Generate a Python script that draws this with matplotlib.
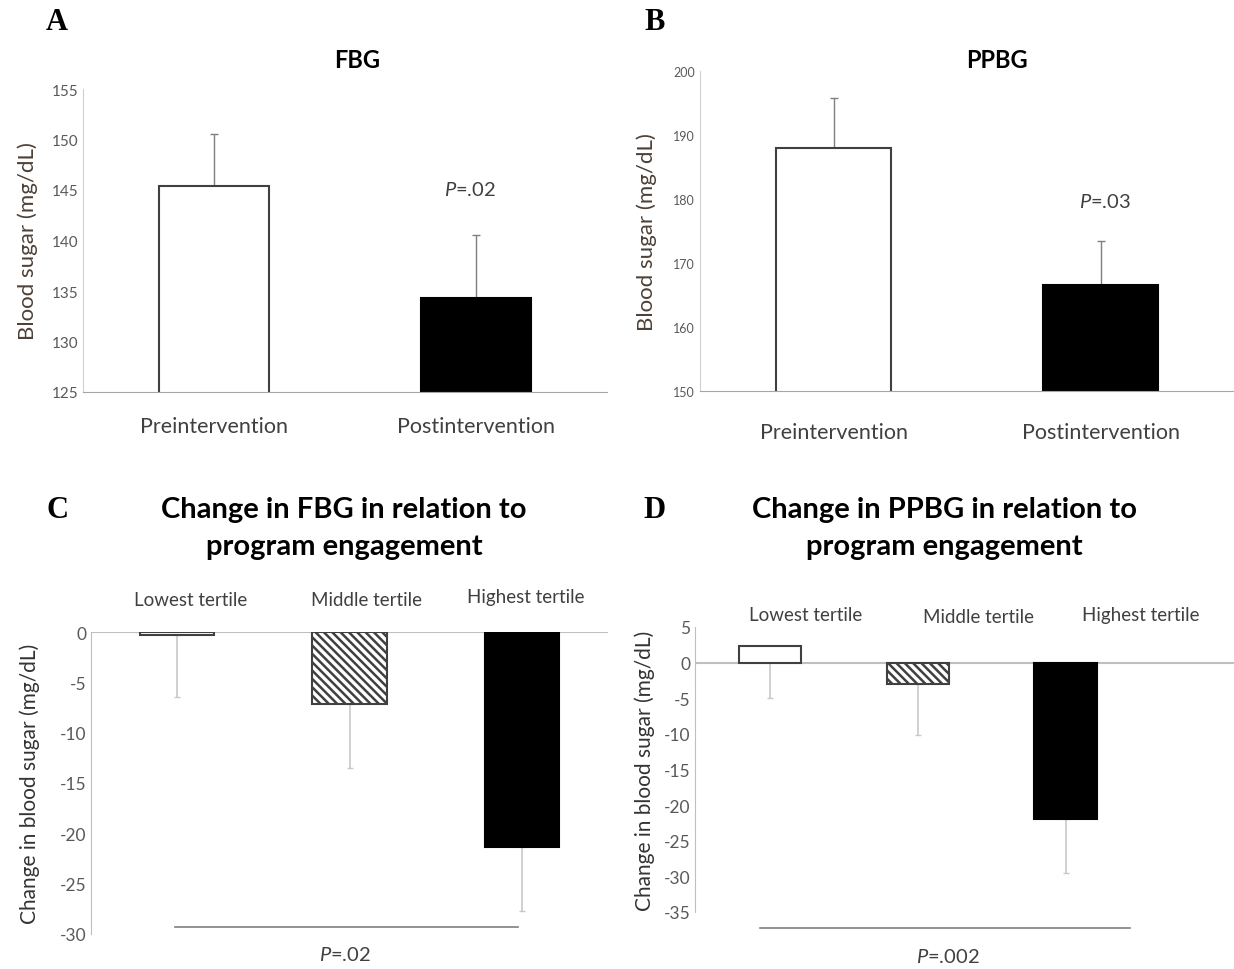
import numpy as np
import matplotlib
matplotlib.use('Agg')
import matplotlib.pyplot as plt
import matplotlib.transforms as mtransforms

plt.rcParams['font.family'] = ['Lato', 'DejaVu Sans']
plt.rcParams['mathtext.fontset'] = 'custom'
plt.rcParams['mathtext.it'] = 'Lato:italic'
plt.rcParams['mathtext.rm'] = 'Lato'
plt.rcParams['hatch.linewidth'] = 1.8
plt.rcParams['hatch.color'] = 'black'
plt.rcParams['axes.unicode_minus'] = False

# data
time_labels = ['Preintervention', 'Postintervention']
fbg_mean = [145.4, 134.3]
fbg_err = [5.1, 6.2]
ppbg_mean = [188.0, 166.6]
ppbg_err = [7.8, 6.8]

tertiles = ['Lowest tertile', 'Middle tertile', 'Highest tertile']
fbg_change = [-0.3, -7.2, -21.4]
fbg_change_err = [6.2, 6.3, 6.3]
ppbg_change = [2.3, -3.0, -22.0]
ppbg_change_err = [7.3, 7.2, 7.5]

W, H = 1234, 970
fig = plt.figure(figsize=(W / 100, H / 100), dpi=100)


def px_axes(x0, y0, x1, y1):
    return fig.add_axes([x0 / W, 1 - y1 / H, (x1 - x0) / W, (y1 - y0) / H])


def style(ax):
    for s in ['top', 'right']:
        ax.spines[s].set_visible(False)
    ax.tick_params(length=0, colors='#595959')


def pptext(x, y, s, size=14.5):
    fig.text(x / W, 1 - y / H, s, ha='center', va='center', fontsize=size, color='#404040')


fills = ['white', 'black']
hatches3 = ['', '\\\\\\\\', '']
fills3 = ['white', 'white', 'black']

# ---- A: FBG
ax = px_axes(83, 90, 607, 393)
style(ax)
x = np.arange(len(time_labels))
ax.bar(x, fbg_mean, width=0.42, color=fills, edgecolor=['#404040', 'black'], linewidth=1.5,
       zorder=2)
ax.errorbar(x, fbg_mean, yerr=[[0, 0], fbg_err], fmt='none', ecolor='#7f7f7f', elinewidth=1,
            capsize=3, zorder=1)
ax.set_ylim(125, 155)
ax.set_xlim(-0.5, 1.5)
ax.set_yticks(np.arange(125, 156, 5))
ax.set_xticks(x)
ax.set_xticklabels(time_labels, fontsize=15.5, color='#404040')
ax.tick_params(axis='x', pad=17)
ax.tick_params(axis='y', labelsize=11)
ax.spines['left'].set_color('#d0d0d0')
ax.spines['bottom'].set_color('#a6a6a6')
ax.set_ylabel('Blood sugar (mg/dL)', fontsize=16, color='#4d4036', labelpad=10)
fig.text(357 / W, 1 - 60 / H, 'FBG', ha='center', va='center', fontsize=17, fontweight='bold')
pptext(470, 190, '$P$=.02')
fig.text(57 / W, 1 - 22 / H, 'A', ha='center', va='center', fontsize=22, fontweight='bold',
         family='Liberation Serif')

# ---- B: PPBG
ax = px_axes(700, 72, 1234, 392)
style(ax)
ax.bar(x, ppbg_mean, width=0.43, color=fills, edgecolor=['#404040', 'black'], linewidth=1.5,
       zorder=2)
ax.errorbar(x, ppbg_mean, yerr=[[0, 0], ppbg_err], fmt='none', ecolor='#7f7f7f', elinewidth=1,
            capsize=3, zorder=1)
ax.set_ylim(150, 200)
ax.set_xlim(-0.5, 1.5)
ax.set_yticks(np.arange(150, 201, 10))
ax.set_xticks(x)
ax.set_xticklabels(time_labels, fontsize=15.5, color='#404040')
ax.tick_params(axis='x', pad=22)
ax.tick_params(axis='y', labelsize=9)
ax.spines['left'].set_color('#d0d0d0')
ax.spines['bottom'].set_color('#a6a6a6')
ax.set_ylabel('Blood sugar (mg/dL)', fontsize=16, color='#4d4036', labelpad=12)
fig.text(997 / W, 1 - 60 / H, 'PPBG', ha='center', va='center', fontsize=17, fontweight='bold')
pptext(1105, 202, '$P$=.03')
fig.text(655 / W, 1 - 22 / H, 'B', ha='center', va='center', fontsize=22, fontweight='bold',
         family='Liberation Serif')


def change_panel(ax, vals, errs, ylim, yticks, xlim, label_x, label_dy, width, pad):
    style(ax)
    ax.spines['bottom'].set_visible(False)
    ax.spines['left'].set_color('#bfbfbf')
    xs = np.arange(len(vals))
    ax.bar(xs, vals, width=width, color=fills3, hatch=hatches3,
           edgecolor=['#404040', '#404040', 'black'], linewidth=1.5, zorder=2)
    ax.errorbar(xs, vals, yerr=[errs, [0] * len(vals)], fmt='none', ecolor='#c8c8c8',
                elinewidth=1.2, capsize=2, zorder=1)
    ax.axhline(0, color='#bfbfbf', lw=1.5, zorder=0)
    ax.set_ylim(*ylim)
    ax.set_xlim(*xlim)
    ax.set_yticks(yticks)
    ax.set_xticks([])
    ax.tick_params(axis='y', labelsize=12.5)
    ax.set_ylabel('Change in blood sugar (mg/dL)', fontsize=15, color='#333333', labelpad=pad)
    trans = mtransforms.blended_transform_factory(ax.transData, ax.transAxes)
    for lx, lab, dy in zip(label_x, tertiles, label_dy):
        ax.annotate(lab, xy=(lx, 1), xycoords=trans, xytext=(0, dy), textcoords='offset pixels',
                    ha='center', va='center', fontsize=13.5, color='#404040',
                    annotation_clip=False)


# ---- C
ax = px_axes(91, 633, 608, 935)
change_panel(ax, fbg_change, fbg_change_err, (-30, 0), np.arange(-30, 1, 5), (-0.5, 2.5),
             [0.08, 1.1, 2.02], [33, 33, 35], 0.43, 14)
fig.add_artist(plt.Line2D([175 / W, 518 / W], [1 - 928 / H, 1 - 928 / H], color='#7f7f7f', lw=1.2))
pptext(345, 955, '$P$=.02')
fig.text(344 / W, 1 - 510 / H, 'Change in FBG in relation to', ha='center', va='center',
         fontsize=21, fontweight='bold')
fig.text(344 / W, 1 - 547 / H, 'program engagement', ha='center', va='center',
         fontsize=21, fontweight='bold')
fig.text(58 / W, 1 - 510 / H, 'C', ha='center', va='center', fontsize=22, fontweight='bold',
         family='Liberation Serif')

# ---- D
ax = px_axes(695, 628, 1234, 913)
change_panel(ax, ppbg_change, ppbg_change_err, (-35, 5), np.arange(-35, 6, 5), (-0.507, 3.14),
             [0.24, 1.41, 2.51], [12, 10, 12], 0.42, 6)
fig.add_artist(plt.Line2D([760 / W, 1130 / W], [1 - 929 / H, 1 - 929 / H], color='#7f7f7f', lw=1.2))
pptext(948, 957, '$P$=.002')
fig.text(944 / W, 1 - 510 / H, 'Change in PPBG in relation to', ha='center', va='center',
         fontsize=21, fontweight='bold')
fig.text(944 / W, 1 - 547 / H, 'program engagement', ha='center', va='center',
         fontsize=21, fontweight='bold')
fig.text(654 / W, 1 - 510 / H, 'D', ha='center', va='center', fontsize=22, fontweight='bold',
         family='Liberation Serif')

fig.savefig('out.png', dpi=100, facecolor='white')
